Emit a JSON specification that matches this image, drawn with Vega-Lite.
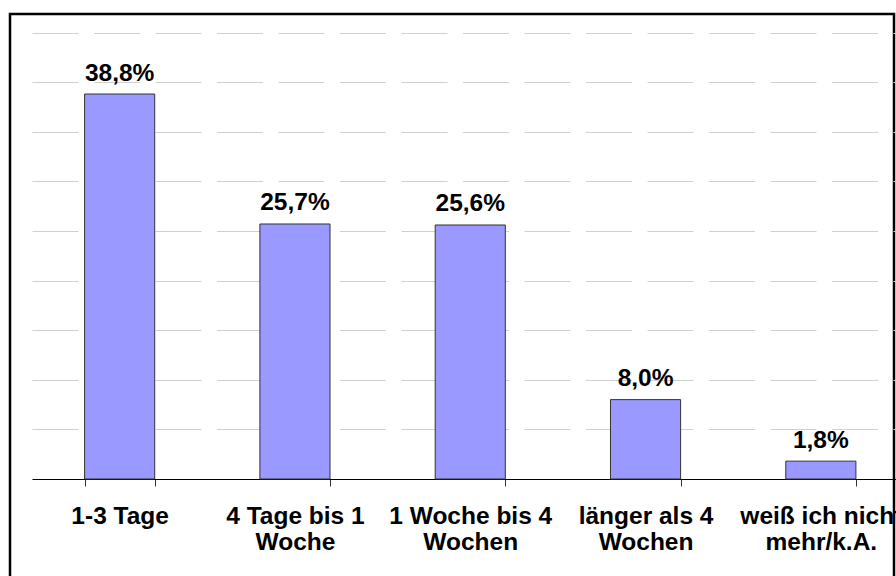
{
  "$schema": "https://vega.github.io/schema/vega-lite/v6.json",
  "width": 884,
  "height": 572,
  "autosize": {"type": "none"},
  "padding": {"left": 10, "top": 14, "right": 2, "bottom": 0},
  "background": "white",
  "config": {
    "view": {"stroke": "black", "strokeWidth": 2.5},
    "font": "Liberation Sans"
  },
  "data": {
    "values": [
      {"Dauer": "1-3 Tage", "Anteil": 38.8},
      {"Dauer": "4 Tage bis 1 Woche", "Anteil": 25.7},
      {"Dauer": "1 Woche bis 4 Wochen", "Anteil": 25.6},
      {"Dauer": "länger als 4 Wochen", "Anteil": 8.0},
      {"Dauer": "weiß ich nicht mehr/k.A.", "Anteil": 1.8}
    ]
  },
  "encoding": {
    "x": {
      "field": "Dauer",
      "type": "nominal",
      "sort": null,
      "scale": {"range": [22, 898.5], "paddingInner": 0.6, "paddingOuter": 0.3},
      "axis": {
        "title": null,
        "orient": "bottom",
        "offset": -107,
        "domainColor": "black",
        "domainWidth": 1,
        "tickColor": "#333333",
        "tickSize": 7,
        "tickWidth": 1,
        "tickBand": "extent",
        "grid": false,
        "labelAngle": 0,
        "labelFont": "Liberation Sans",
        "labelFontSize": 24.5,
        "labelFontWeight": "bold",
        "labelColor": "black",
        "labelPadding": 18,
        "labelLineHeight": 26,
        "labelOverlap": false,
        "labelBaseline": "top",
        "labelAlign": "center",
        "labelExpr": "datum.value == '4 Tage bis 1 Woche' ? ['4 Tage bis 1', 'Woche'] : datum.value == '1 Woche bis 4 Wochen' ? ['1 Woche bis 4', 'Wochen'] : datum.value == 'länger als 4 Wochen' ? ['länger als 4', 'Wochen'] : datum.value == 'weiß ich nicht mehr/k.A.' ? ['weiß ich nicht', 'mehr/k.A.'] : datum.label"
      }
    },
    "y": {
      "field": "Anteil",
      "type": "quantitative",
      "scale": {"domain": [0, 45], "range": [465, 18.5], "nice": false, "zero": true},
      "axis": {
        "title": null,
        "labels": false,
        "ticks": false,
        "domain": false,
        "grid": true,
        "values": [5, 10, 15, 20, 25, 30, 35, 40, 45],
        "gridColor": "#d0d0d0",
        "gridWidth": 1,
        "gridDash": [46, 15.5]
      }
    }
  },
  "layer": [
    {
      "mark": {"type": "bar", "fill": "#9999ff", "stroke": "#333333", "strokeWidth": 1}
    },
    {
      "transform": [
        {"calculate": "replace(format(datum.Anteil, '.1f'), '.', ',') + '%'", "as": "Label"}
      ],
      "mark": {
        "type": "text",
        "baseline": "alphabetic",
        "dy": -13.5,
        "fontSize": 24.5,
        "fontWeight": "bold",
        "font": "Liberation Sans",
        "color": "black"
      },
      "encoding": {"text": {"field": "Label", "type": "nominal"}}
    }
  ]
}
